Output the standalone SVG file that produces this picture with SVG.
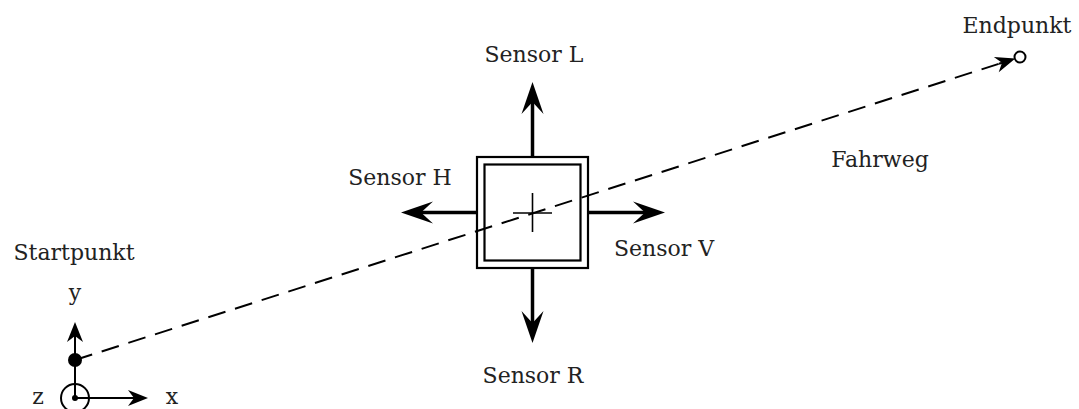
<svg xmlns="http://www.w3.org/2000/svg" width="1079" height="409" viewBox="0 0 1079 409">
<style>
text{font-family:"DejaVu Serif","Liberation Serif",serif;font-size:22px;fill:#222}
.sa{stroke:#000;stroke-width:3.5;fill:none}
.box{stroke:#000;stroke-width:2.2;fill:none}
.ax{stroke:#000;stroke-width:2;fill:none}
</style>
<defs>
<marker id="big" markerUnits="userSpaceOnUse" markerWidth="40" markerHeight="30" viewBox="-14 -13 40 26" refX="0" refY="0" orient="auto">
<path d="M20,0 L-12,-11 L0,0 L-12,11 Z" fill="#000"/>
</marker>
<marker id="small" markerUnits="userSpaceOnUse" markerWidth="26" markerHeight="20" viewBox="-8 -10 26 20" refX="0" refY="0" orient="auto">
<path d="M14,0 L-6,-8 L0,0 L-6,8 Z" fill="#000"/>
</marker>
</defs>
<g id="connectors">
<line x1="75" y1="360" x2="1002" y2="62.8" stroke="#000" stroke-width="2" stroke-dasharray="18,10"/>
<line x1="999" y1="63.76" x2="1002" y2="62.8" class="ax" marker-end="url(#small)"/>
</g>
<g id="vehicle">
<rect x="477" y="157" width="111" height="111" class="box"/>
<rect x="484.5" y="164.5" width="96" height="96" class="box"/>
<line x1="513" y1="213" x2="552" y2="213" stroke="#000" stroke-width="1.6"/>
<line x1="532.5" y1="193" x2="532.5" y2="232" stroke="#000" stroke-width="1.6"/>
</g>
<g id="sensor-L">
<line x1="532.5" y1="156" x2="532.5" y2="102" class="sa" marker-end="url(#big)"/>
<text x="534" y="62" text-anchor="middle">Sensor L</text>
</g>
<g id="sensor-R">
<line x1="532.5" y1="269" x2="532.5" y2="323" class="sa" marker-end="url(#big)"/>
<text x="533" y="383" text-anchor="middle">Sensor R</text>
</g>
<g id="sensor-H">
<line x1="476" y1="212.5" x2="421" y2="212.5" class="sa" marker-end="url(#big)"/>
<text x="400" y="185" text-anchor="middle">Sensor H</text>
</g>
<g id="sensor-V">
<line x1="589" y1="212.5" x2="645" y2="212.5" class="sa" marker-end="url(#big)"/>
<text x="664" y="256" text-anchor="middle">Sensor V</text>
</g>
<g id="fahrweg">
<text x="880" y="167" text-anchor="middle">Fahrweg</text>
</g>
<g id="endpunkt">
<circle cx="1020" cy="57" r="5.5" fill="#fff" stroke="#000" stroke-width="2"/>
<text x="1017" y="33" text-anchor="middle">Endpunkt</text>
</g>
<g id="startpunkt">
<text x="74" y="260" text-anchor="middle">Startpunkt</text>
<line x1="75" y1="398" x2="75" y2="336" class="ax" marker-end="url(#small)"/>
<line x1="75" y1="398" x2="134" y2="398" class="ax" marker-end="url(#small)"/>
<circle cx="75" cy="398" r="14" fill="none" stroke="#000" stroke-width="2"/>
<circle cx="75" cy="398" r="3" fill="#000"/>
<circle cx="75" cy="360" r="7" fill="#000"/>
<text x="75" y="300" text-anchor="middle">y</text>
<text x="38" y="404" text-anchor="middle">z</text>
<text x="172" y="404" text-anchor="middle">x</text>
</g>
</svg>
